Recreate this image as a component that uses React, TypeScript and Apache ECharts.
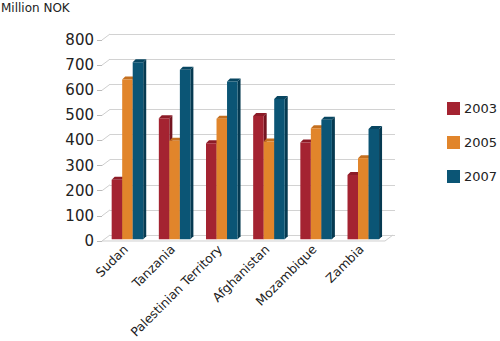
import React, { useEffect, useRef } from "react";
import * as echarts from "echarts";

const categories = ["Sudan", "Tanzania", "Palestinian Territory", "Afghanistan", "Mozambique", "Zambia"];
const years = ["2003", "2005", "2007"];
const values2003 = [237, 482, 382, 491, 385, 256];
const values2005 = [636, 392, 480, 389, 442, 323];
const values2007 = [705, 675, 628, 558, 476, 439];
const yTicks = [0, 100, 200, 300, 400, 500, 600, 700, 800];

const FONT = "DejaVu Sans";
const palette = [
  { front: "#a42331", top: "#8c1b27", side: "#741420" },
  { front: "#e1852b", top: "#c46f1f", side: "#a85d17" },
  { front: "#0b5575", top: "#084661", side: "#063a51" },
];
const DX = 8;
const DY = 6;

export default function App() {
  const ref = useRef<HTMLDivElement>(null);
  useEffect(() => {
    if (!ref.current) return;
    document.body.style.margin = "0";
    const chart = echarts.init(ref.current, null, { renderer: "svg" });
    const seriesValues = [values2003, values2005, values2007];

    const barSeries = seriesValues.map((vals, k) => ({
      type: "custom",
      name: years[k],
      xAxisIndex: 0,
      yAxisIndex: 0,
      itemStyle: { color: palette[k].front },
      data: vals.map((v, i) => [i, v]),
      z: 10 + k,
      renderItem: (params: any, api: any) => {
        const ci = api.value(0);
        const v = api.value(1);
        const base = api.coord([ci, 0]);
        const topP = api.coord([ci, v]);
        const bw = api.size([1, 0])[0];
        const fw = bw * 0.223;
        const x0 = base[0] - bw / 2 + bw * 0.205 + k * fw;
        const by = base[1] - 1.7;
        const ty = topP[1] - 1.7;
        const d = 3;
        const c = palette[k];
        return {
          type: "group",
          children: [
            {
              type: "polygon",
              shape: { points: [[x0 + fw, ty], [x0 + fw + d, ty - d], [x0 + fw + d, by - d], [x0 + fw, by]] },
              style: { fill: c.side },
            },
            {
              type: "polygon",
              shape: { points: [[x0, ty], [x0 + d, ty - d], [x0 + fw + d, ty - d], [x0 + fw, ty]] },
              style: { fill: c.top },
            },
            {
              type: "rect",
              shape: { x: x0, y: ty, width: fw, height: by - ty },
              style: { fill: c.front },
            },
          ],
        };
      },
    }));

    const frameSeries = {
      type: "custom",
      name: "frame",
      xAxisIndex: 0,
      yAxisIndex: 0,
      silent: true,
      z: 2,
      data: yTicks.map((t) => [0, t]),
      renderItem: (params: any, api: any) => {
        const v = api.value(1);
        const p = api.coord([0, v]);
        const bw = api.size([1, 0])[0];
        const lx = p[0] - bw / 2;
        const stroke = { stroke: "#cfcfcf", lineWidth: 1 };
        const children: any[] = [
          { type: "line", shape: { x1: lx, y1: p[1], x2: lx + DX, y2: p[1] - DY }, style: stroke },
        ];
        if (v === 0) {
          const r = api.coord([categories.length - 1, 0]);
          const rx = r[0] + bw / 2;
          children.push({ type: "line", shape: { x1: lx, y1: p[1], x2: rx, y2: p[1] }, style: stroke });
          children.push({ type: "line", shape: { x1: rx, y1: p[1], x2: rx + DX, y2: p[1] - DY }, style: stroke });
        }
        return { type: "group", children };
      },
    };

    chart.setOption({
      animation: false,
      textStyle: { fontFamily: FONT },
      title: {
        text: "Million NOK",
        left: 0,
        top: 0,
        padding: [2, 0, 0, 1],
        textStyle: { fontFamily: FONT, fontSize: 12, fontWeight: "normal", color: "#222" },
      },
      legend: {
        orient: "vertical",
        left: 447,
        top: 102,
        padding: 0,
        itemWidth: 13,
        itemHeight: 13,
        itemGap: 21,
        icon: "rect",
        data: years,
        textStyle: { fontFamily: FONT, fontSize: 13, color: "#222", padding: [0, 0, 0, -1] },
      },
      grid: [
        { left: 102, right: 115, top: 40, bottom: 100 },
        { left: 110, right: 105, top: 34, bottom: 106 },
      ],
      xAxis: [
        {
          type: "category",
          gridIndex: 0,
          data: categories,
          axisLine: { show: false },
          axisTick: { show: false },
          axisLabel: {
            rotate: 45,
            interval: 0,
            margin: 6,
            fontFamily: FONT,
            fontSize: 12.5,
            color: "#222",
          },
        },
        {
          type: "category",
          gridIndex: 1,
          data: categories,
          show: false,
        },
      ],
      yAxis: [
        {
          type: "value",
          gridIndex: 0,
          min: 0,
          max: 800,
          interval: 100,
          axisLine: { show: false },
          axisTick: { show: true, length: 5, lineStyle: { color: "#bbbbbb" } },
          splitLine: { show: false },
          axisLabel: { margin: 8, fontFamily: FONT, fontSize: 15, color: "#222" },
        },
        {
          type: "value",
          gridIndex: 1,
          min: 0,
          max: 800,
          interval: 100,
          axisLine: { show: false },
          axisTick: { show: false },
          axisLabel: { show: false },
          splitLine: { show: true, lineStyle: { color: "#d2d2d2", width: 1 } },
        },
      ],
      series: [frameSeries, ...barSeries],
    });
    return () => chart.dispose();
  }, []);
  return <div ref={ref} style={{ width: 500, height: 341 }} />;
}
